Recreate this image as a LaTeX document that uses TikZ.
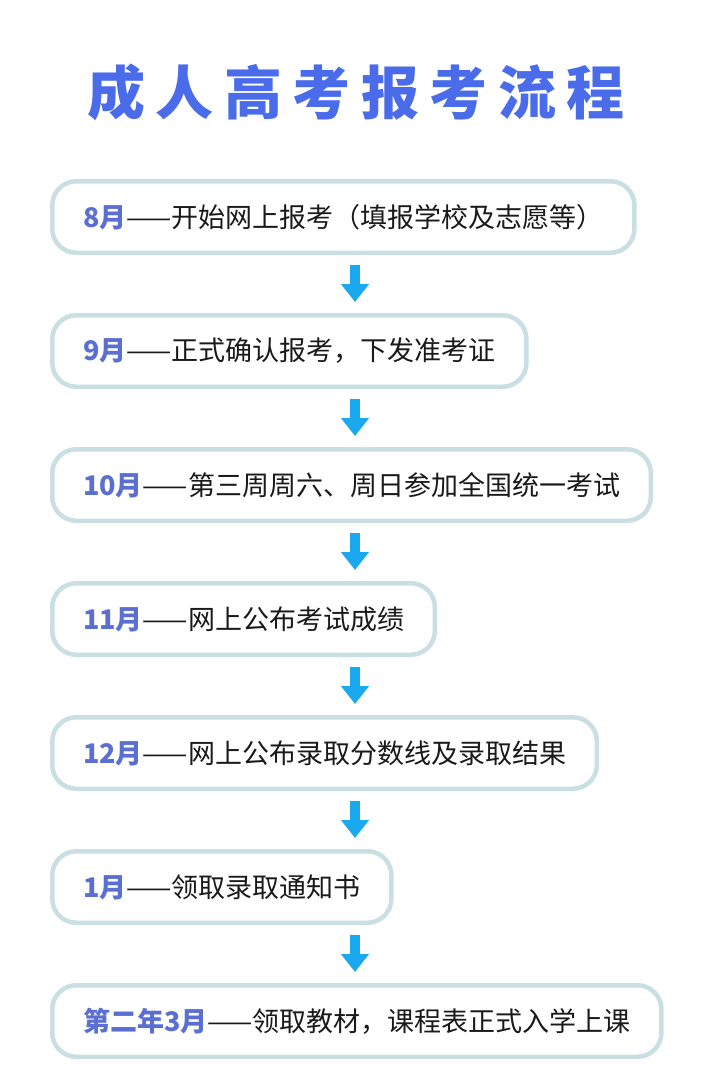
\documentclass[tikz,border=0pt]{standalone}
\usepackage{fontspec}
\setmainfont{Noto Sans CJK SC}
\newfontfamily\titlefont{Noto Sans CJK SC}[LetterSpace=18]
\usetikzlibrary{positioning}
\usetikzlibrary{arrows.meta}
\definecolor{boxline}{HTML}{C9DFE4}
\definecolor{arrowblue}{HTML}{1AA8EE}
\definecolor{monthblue}{HTML}{5B6FD3}
\definecolor{titleblue}{HTML}{4A6CEB}
\definecolor{textblack}{HTML}{1A1A1A}
\newcommand\monthtag[1]{\textcolor{monthblue}{\bfseries #1}}

\begin{document}
\begin{tikzpicture}[x=1pt,y=1pt,
stepbox/.style={draw=boxline, line width=4.5pt, rounded corners=24pt, fill=white,
 minimum height=71.5pt, inner xsep=30.75pt, inner ysep=0pt, text=textblack,
 font=\fontsize{27}{30}\selectfont},
flow/.style={draw=arrowblue, line width=10pt, -{Triangle[width=27pt,length=18pt]},
 shorten <=10pt, shorten >=11pt}]
\useasboundingbox (0,0) rectangle (709,-1080);
\coordinate (mid) at (355,0);
\node[text=titleblue, font=\fontsize{58}{64}\selectfont] (title) at (356,-92) {\titlefont\bfseries 成人高考报考流程};
\node[stepbox, anchor=north west] (b1) at (50,-179) {\monthtag{8月}——开始网上报考（填报学校及志愿等）};
\node[stepbox, below right=58pt and 0pt of b1.south west] (b2) {\monthtag{9月}——正式确认报考，下发准考证};
\node[stepbox, below right=58pt and 0pt of b2.south west] (b3) {\monthtag{10月}——第三周周六、周日参加全国统一考试};
\node[stepbox, below right=58pt and 0pt of b3.south west] (b4) {\monthtag{11月}——网上公布考试成绩};
\node[stepbox, below right=58pt and 0pt of b4.south west] (b5) {\monthtag{12月}——网上公布录取分数线及录取结果};
\node[stepbox, below right=58pt and 0pt of b5.south west] (b6) {\monthtag{1月}——领取录取通知书};
\node[stepbox, below right=58pt and 0pt of b6.south west] (b7) {\monthtag{第二年3月}——领取教材，课程表正式入学上课};
\foreach \a/\b in {b1/b2,b2/b3,b3/b4,b4/b5,b5/b6,b6/b7}
  \draw[flow] (\a.south -| mid) -- (\b.north -| mid);
\end{tikzpicture}
\end{document}
